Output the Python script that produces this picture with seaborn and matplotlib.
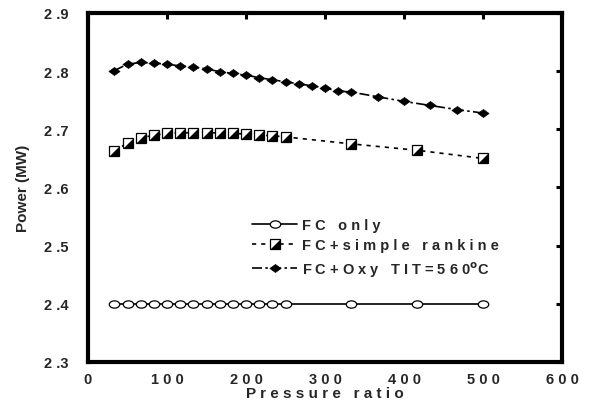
import numpy as np
import pandas as pd
import matplotlib
matplotlib.use("Agg")
import matplotlib.pyplot as plt
from matplotlib.path import Path
from matplotlib.legend_handler import HandlerTuple
import seaborn as sns

# Data
pr_fine = [33.3, 50, 66.7, 83.3, 100, 116.7, 133.3, 150, 166.7, 183.3, 200,
           216.7, 233.3, 250]
pr_fc = pr_fine + [333.3, 416.7, 500]
power_fc = [2.40] * len(pr_fc)

pr_rankine = pr_fine + [333.3, 416.7, 500]
power_rankine = [2.662, 2.677, 2.685, 2.690, 2.693, 2.694, 2.694, 2.694, 2.694,
                 2.693, 2.692, 2.690, 2.689, 2.687, 2.675, 2.664, 2.650]

pr_oxy = pr_fine + [266.7, 283.3, 300, 316.7, 333.3, 366.7, 400, 433.3, 466.7, 500]
power_oxy = [2.801, 2.812, 2.815, 2.814, 2.812, 2.809, 2.807, 2.804, 2.799, 2.796,
             2.793, 2.789, 2.785, 2.782, 2.778, 2.775, 2.771, 2.766, 2.764, 2.756,
             2.748, 2.741, 2.734, 2.728]

x_ticks = [0, 100, 200, 300, 400, 500, 600]
y_ticks = [2.3, 2.4, 2.5, 2.6, 2.7, 2.8, 2.9]

sns.set_style("white")
plt.rcParams["font.family"] = ["Liberation Sans", "DejaVu Sans"]
plt.rcParams["font.weight"] = "bold"


def spaced(s):
    # imitate the wide letter spacing of the original
    return " ".join(" " if c == " " else c for c in s)


# custom marker shapes
ellipse = Path.unit_circle().transformed(
    matplotlib.transforms.Affine2D().scale(1.0, 0.7))
diamond = Path([(-1, 0), (0, 0.72), (1, 0), (0, -0.72), (-1, 0)],
               [Path.MOVETO, Path.LINETO, Path.LINETO, Path.LINETO, Path.CLOSEPOLY])
half_tri = Path([(1, -1), (1, 1), (-1, -1), (1, -1)],
                [Path.MOVETO, Path.LINETO, Path.LINETO, Path.CLOSEPOLY])

fig = plt.figure(figsize=(5.89, 4.10), dpi=100)
ax = fig.add_axes([88 / 589, 1 - 363 / 410, 474 / 589, 349 / 410])

df_fc = pd.DataFrame({"pr": pr_fc, "power": power_fc})
df_rk = pd.DataFrame({"pr": pr_rankine, "power": power_rankine})
df_oxy = pd.DataFrame({"pr": pr_oxy, "power": power_oxy})

sns.lineplot(data=df_fc, x="pr", y="power", ax=ax, color="black", lw=1.2,
             marker=ellipse, markersize=7.5, markerfacecolor="white",
             markeredgecolor="black", markeredgewidth=0.9, estimator=None)
sns.lineplot(data=df_rk, x="pr", y="power", ax=ax, color="black", lw=1.2,
             linestyle=(0, (2.5, 3)), marker="s", markersize=6.5,
             markerfacecolor="white", markeredgecolor="black",
             markeredgewidth=0.9, estimator=None)
tri, = ax.plot(pr_rankine, power_rankine, linestyle="none", marker=half_tri,
               markersize=6.5, color="black", markeredgewidth=0)
sns.lineplot(data=df_oxy, x="pr", y="power", ax=ax, color="black", lw=1.2,
             linestyle=(0, (6, 2, 1.5, 2)), marker=diamond, markersize=8,
             markerfacecolor="black", markeredgecolor="black",
             markeredgewidth=0.5, estimator=None)

lines = ax.get_lines()
l_fc, l_rk, l_oxy = lines[0], lines[1], lines[3]

ax.legend([(l_fc,), (l_rk, tri), (l_oxy,)],
          [spaced("FC only"), spaced("FC+simple rankine"),
           spaced("FC+Oxy TIT=560") + r"$^{\bf o}$C"],
          handler_map={tuple: HandlerTuple(ndivide=1)},
          loc="center left", bbox_to_anchor=(0.346, 0.326), frameon=False,
          borderpad=0, borderaxespad=0, handlelength=3.1, handletextpad=0.35,
          labelspacing=0.45, prop={"size": 10.5, "weight": "bold"})

ax.set_xlim(0, 600)
ax.set_ylim(2.3, 2.9)
ax.set_xticks(x_ticks)
ax.set_xticklabels([spaced(str(t)) for t in x_ticks])
ax.set_yticks(y_ticks)
ax.set_yticklabels([f"{t:.1f}".replace(".", " .") for t in y_ticks])

for side in ["left", "right", "top", "bottom"]:
    ax.spines[side].set_visible(True)
    ax.spines[side].set_linewidth(3)
    ax.spines[side].set_color("black")

ax.tick_params(axis="both", direction="in", length=4.5, width=2.2,
               color="black", top=True, right=True, labelsize=10.5)
ax.tick_params(axis="x", pad=7)
ax.tick_params(axis="y", pad=14)
for lab in ax.get_xticklabels() + ax.get_yticklabels():
    lab.set_fontweight("bold")

ax.set_xlabel(spaced("Pressure ratio"), fontsize=11, fontweight="bold", labelpad=0)
ax.set_ylabel("Power (MW)", fontsize=11, fontweight="bold", labelpad=10)

fig.savefig("out.png", dpi=100)
